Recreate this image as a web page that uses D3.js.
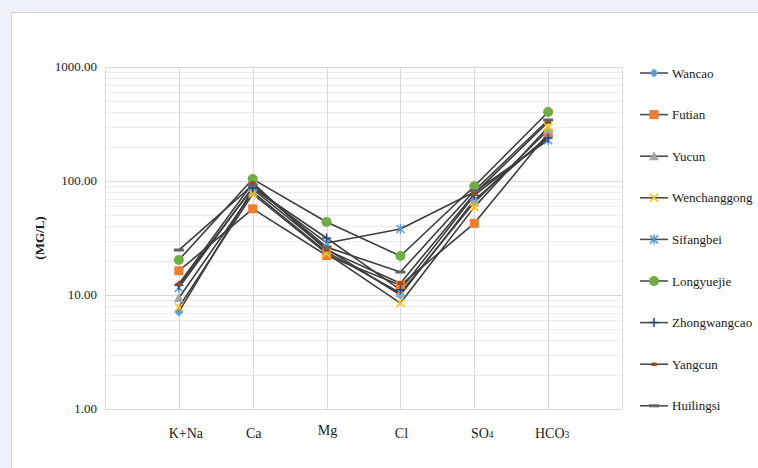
<!DOCTYPE html>
<html>
<head>
<meta charset="utf-8">
<script src="https://cdn.jsdelivr.net/npm/d3@7"></script>
<style>
  html, body { margin: 0; padding: 0; background: #eef1f9; }
  svg { display: block; }
  svg text { font-family: "Liberation Serif", "Times New Roman", "DejaVu Serif", serif; }
</style>
</head>
<body>
<svg id="chart" width="758" height="468"></svg>
<script>
// Ion categories along the x axis
const categories = ["K+Na", "Ca", "Mg", "Cl", "SO4", "HCO3"];

// Concentrations (mg/L) per sampling site, in category order
const wancao       = [7.1, 85, 25.4, 10.0, 68, 248];
const futian       = [16.3, 57, 22.2, 12.2, 42.5, 262];
const yucun        = [9.4, 80, 23.8, 10.4, 65, 280];
const wenchanggong = [7.8, 77, 23.2, 8.5, 59, 297];
const sifangbei    = [11.6, 88, 28.6, 37.9, 80, 228];
const longyuejie   = [20.3, 104, 43.7, 22.0, 90, 403];
const zhongwangcao = [12.2, 87, 31.6, 11.1, 75, 238];
const yangcun      = [12.5, 96, 24.8, 12.7, 77, 330];
const huilingsi    = [24.8, 92, 26.3, 15.9, 82, 343];

const yTicks = [1, 10, 100, 1000];
const yTickLabels = ["1.00", "10.00", "100.00", "1000.00"];

const series = [
  { name: "Wancao",       values: wancao,       marker: "diamond",  color: "#5b9bd5" },
  { name: "Futian",       values: futian,       marker: "square",   color: "#ed7d31" },
  { name: "Yucun",        values: yucun,        marker: "triangle", color: "#a5a5a5" },
  { name: "Wenchanggong", values: wenchanggong, marker: "x",        color: "#ffc000" },
  { name: "Sifangbei",    values: sifangbei,    marker: "star",     color: "#5b9bd5" },
  { name: "Longyuejie",   values: longyuejie,   marker: "circle",   color: "#70ad47" },
  { name: "Zhongwangcao", values: zhongwangcao, marker: "plus",     color: "#264478" },
  { name: "Yangcun",      values: yangcun,      marker: "dot",      color: "#9e480e" },
  { name: "Huilingsi",    values: huilingsi,    marker: "dash",     color: "#636363" }
];

const svg = d3.select("#chart");

// White chart panel on the tinted page
svg.append("rect")
  .attr("x", 11.5).attr("y", 12.5)
  .attr("width", 760).attr("height", 470)
  .attr("fill", "#ffffff")
  .attr("stroke", "#cfd2da").attr("stroke-width", 1);

const plot = { left: 105, right: 622, top: 67, bottom: 409 };

// Category slots with an empty slot at each end
const slots = ["", ...categories, " "];
const x = d3.scalePoint().domain(slots).range([plot.left, plot.right]);
const y = d3.scaleLog().domain([1, 1000]).range([plot.bottom, plot.top]);

// Minor gridlines (2..9 within each decade)
const minor = [];
for (let d = 1; d < 1000; d *= 10) for (let k = 2; k <= 9; k++) minor.push(d * k);
const grid = svg.append("g");
grid.selectAll("line.minor").data(minor).join("line")
  .attr("x1", plot.left).attr("x2", plot.right)
  .attr("y1", d => Math.round(y(d)) + 0.5).attr("y2", d => Math.round(y(d)) + 0.5)
  .attr("stroke", "#ececec").attr("stroke-width", 1);
grid.selectAll("line.major").data(yTicks).join("line")
  .attr("x1", plot.left).attr("x2", plot.right)
  .attr("y1", d => Math.round(y(d)) + 0.5).attr("y2", d => Math.round(y(d)) + 0.5)
  .attr("stroke", "#d9d9d9").attr("stroke-width", 1);
grid.selectAll("line.v").data(slots).join("line")
  .attr("x1", d => Math.round(x(d)) + 0.5).attr("x2", d => Math.round(x(d)) + 0.5)
  .attr("y1", plot.top).attr("y2", plot.bottom)
  .attr("stroke", "#d9d9d9").attr("stroke-width", 1);

// Y axis tick labels
svg.append("g").selectAll("text").data(yTicks).join("text")
  .attr("x", 97).attr("y", d => y(d) + 4)
  .attr("text-anchor", "end")
  .attr("font-size", 13)
  .attr("fill", "#1a1a1a")
  .text((d, i) => yTickLabels[i]);

// Y axis title
svg.append("text")
  .attr("transform", "translate(44,238) rotate(-90)")
  .attr("text-anchor", "middle")
  .attr("font-size", 13).attr("font-weight", "bold")
  .attr("fill", "#1a1a1a")
  .text("(MG/L)");

// Category labels with subscripted digits
const catLabels = svg.append("g");
categories.forEach(c => {
  const t = catLabels.append("text")
    .attr("x", x(c) + (c === "K+Na" ? 7 : c === "SO4" ? 8 : c === "HCO3" ? 4 : 1))
    .attr("y", c === "Mg" ? 435 : 438)
    .attr("text-anchor", "middle")
    .attr("font-size", 14)
    .attr("fill", "#1a1a1a");
  const m = c.match(/^(.*?)(\d)$/);
  if (m) {
    t.append("tspan").text(m[1]);
    t.append("tspan").attr("font-size", 9.5).text(m[2]);
  } else {
    t.text(c);
  }
});

// Marker drawing
function drawMarker(g, type, color, cx, cy) {
  const s = g.append("g").attr("transform", `translate(${cx},${cy})`);
  switch (type) {
    case "diamond":
      s.append("path").attr("d", "M0,-4.5L4.5,0L0,4.5L-4.5,0Z").attr("fill", color);
      break;
    case "square":
      s.append("rect").attr("x", -4.5).attr("y", -4.5).attr("width", 9).attr("height", 9).attr("fill", color);
      break;
    case "triangle":
      s.append("path").attr("d", "M0,-5L5,4L-5,4Z").attr("fill", color);
      break;
    case "x":
      s.append("path").attr("d", "M-4,-4L4,4M-4,4L4,-4").attr("stroke", color).attr("stroke-width", 1.6);
      break;
    case "star":
      s.append("path").attr("d", "M-4,-4L4,4M-4,4L4,-4M0,-5L0,5").attr("stroke", color).attr("stroke-width", 1.5);
      break;
    case "circle":
      s.append("circle").attr("r", 5).attr("fill", color);
      break;
    case "plus":
      s.append("path").attr("d", "M-4.5,0L4.5,0M0,-4.5L0,4.5").attr("stroke", color).attr("stroke-width", 1.5);
      break;
    case "dot":
      s.append("rect").attr("x", -3).attr("y", -1.8).attr("width", 6).attr("height", 3.6).attr("rx", 1.5).attr("fill", color);
      break;
    case "dash":
      s.append("rect").attr("x", -5).attr("y", -1.5).attr("width", 10).attr("height", 3).attr("fill", color);
      break;
  }
}

// Series lines and markers
const line = d3.line().x(d => x(d.c)).y(d => y(d.v));
const lines = svg.append("g");
series.forEach(s => {
  const pts = categories.map((c, i) => ({ c, v: s.values[i] }));
  lines.append("path").datum(pts)
    .attr("d", line)
    .attr("fill", "none")
    .attr("stroke", "#3d3d3d").attr("stroke-width", 1.6)
    .attr("stroke-linejoin", "round");
});
const marks = svg.append("g");
series.forEach(s => {
  categories.forEach((c, i) => drawMarker(marks, s.marker, s.color, x(c), y(s.values[i])));
});

// Legend
const legend = svg.append("g");
series.forEach((s, i) => {
  const ly = 73 + i * 41.6;
  legend.append("line")
    .attr("x1", 640).attr("x2", 668).attr("y1", ly).attr("y2", ly)
    .attr("stroke", "#4d4d4d").attr("stroke-width", 1.6);
  drawMarker(legend, s.marker, s.color, 654, ly);
  legend.append("text")
    .attr("x", 672).attr("y", ly + 4.5)
    .attr("font-size", 13)
    .attr("fill", "#1a1a1a")
    .text(s.name);
});
</script>
</body>
</html>
